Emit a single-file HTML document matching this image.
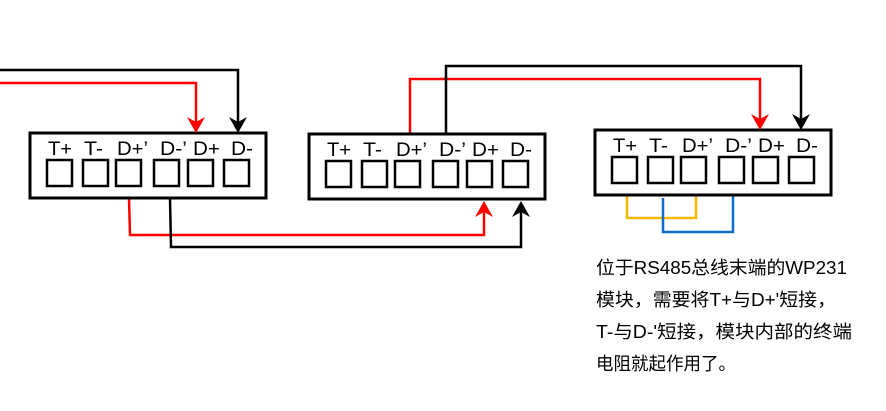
<!DOCTYPE html>
<html><head><meta charset="utf-8"><style>
html,body{margin:0;padding:0;background:#fff;width:886px;height:411px;overflow:hidden}
svg text{font-family:"Liberation Sans","Noto Sans CJK SC",sans-serif}
</style></head><body>
<svg width="886" height="411" viewBox="0 0 886 411" xmlns="http://www.w3.org/2000/svg">
<defs>
<g id="box">
<rect x="0" y="0" width="236" height="65" fill="#fff" stroke="#000" stroke-width="3"/>
<g fill="none" stroke="#000" stroke-width="2.5">
<rect x="17" y="27" width="25" height="26"/><rect x="53" y="27" width="25" height="26"/>
<rect x="86" y="27" width="25" height="26"/><rect x="124" y="27" width="25" height="26"/>
<rect x="158" y="27" width="25" height="26"/><rect x="194" y="27" width="25" height="26"/>
</g>
<g font-size="19" fill="#000">
<text x="18" y="22" textLength="24" lengthAdjust="spacingAndGlyphs">T+</text>
<text x="54" y="22" textLength="19" lengthAdjust="spacingAndGlyphs">T-</text>
<text x="87" y="22" textLength="31" lengthAdjust="spacingAndGlyphs">D+’</text>
<text x="130" y="22" textLength="27" lengthAdjust="spacingAndGlyphs">D-’</text>
<text x="163" y="22" textLength="27" lengthAdjust="spacingAndGlyphs">D+</text>
<text x="201" y="22" textLength="22" lengthAdjust="spacingAndGlyphs">D-</text>
</g>
</g>
</defs>
<g fill="none" stroke-width="2.5">
<polyline points="0,70 238,70 238,124" stroke="#000"/>
<polyline points="0,83 196,83 196,124" stroke="#f00"/>
<polyline points="129,198 130,235 484,235 484,210" stroke="#f00"/>
<polyline points="170,198 171,247 521,247 521,210" stroke="#000"/>
<polyline points="410,134 410,79 760,79 760,121" stroke="#f00"/>
<polyline points="446,134 446,66 801,66 801,121" stroke="#000"/>
<polyline points="627,196 627,218 696,218 696,196" stroke="#f5b800"/>
<polyline points="663,198 663,232 733,232 733,196" stroke="#0a6ec8"/>
</g>
<use href="#box" x="30" y="133"/>
<use href="#box" x="309" y="134"/>
<use href="#box" x="595" y="130"/>
<g>
<polygon points="187,117 196,133 205,117 196,122" fill="#f00"/>
<polygon points="229,117 238,133 247,117 238,122" fill="#000"/>
<polygon points="751,114 760,130 769,114 760,119" fill="#f00"/>
<polygon points="792,114 801,130 810,114 801,119" fill="#000"/>
<polygon points="475,217 484,201 493,217 484,212" fill="#f00"/>
<polygon points="512,217 521,201 530,217 521,212" fill="#000"/>
</g>
<g font-size="18" fill="#000">
<text x="596" y="274" textLength="251" lengthAdjust="spacingAndGlyphs">位于RS485总线末端的WP231</text>
<text x="596" y="306" textLength="240" lengthAdjust="spacingAndGlyphs">模块，需要将T+与D+'短接，</text>
<text x="596" y="338" textLength="256" lengthAdjust="spacingAndGlyphs">T-与D-'短接，模块内部的终端</text>
<text x="596" y="370" textLength="140" lengthAdjust="spacingAndGlyphs">电阻就起作用了。</text>
</g>
</svg>
</body></html>
